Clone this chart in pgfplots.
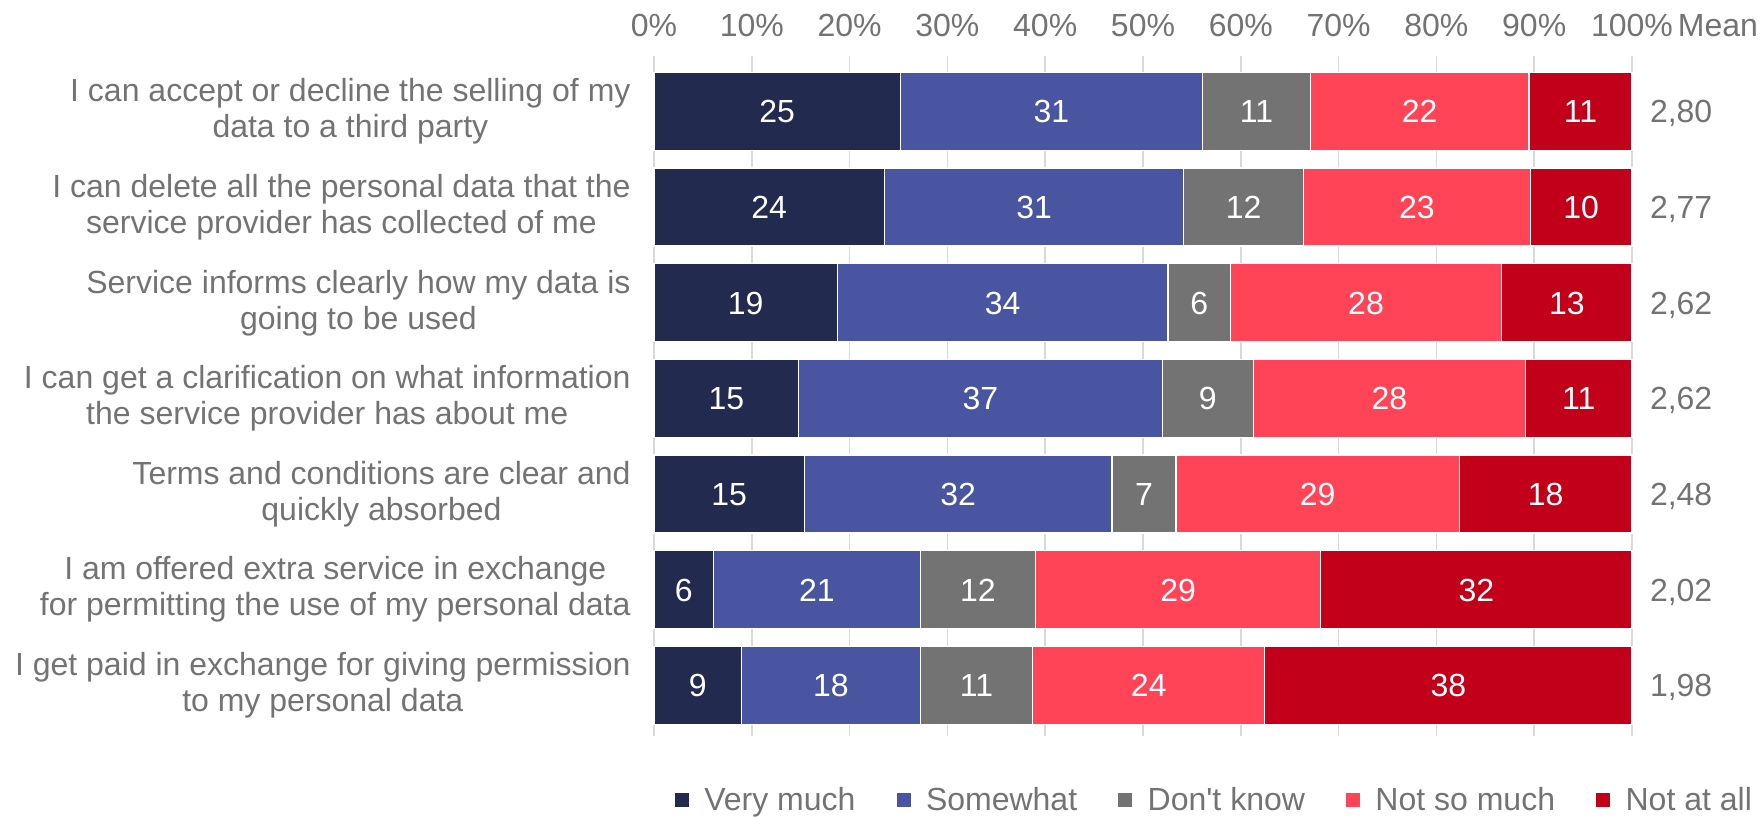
\documentclass[border=0pt]{standalone}
\usepackage{pgfplots}
\pgfplotsset{compat=1.18}
\usepackage{pgfplotstable}
\usepackage{fontspec}
\setmainfont{Liberation Sans}
\definecolor{cVM}{HTML}{222A50}
\definecolor{cSW}{HTML}{4A55A2}
\definecolor{cDK}{HTML}{737373}
\definecolor{cNSM}{HTML}{FF4458}
\definecolor{cNAA}{HTML}{C3001A}
\definecolor{tgray}{HTML}{737373}
\definecolor{ggray}{HTML}{D9D9D9}

\pgfplotstableread{
y v lab
1 25.18 25
2 23.57 24
3 18.74 19
4 14.79 15
5 15.37 15
6 6.08 6
7 8.93 9
}\tVM
\pgfplotstableread{
y v lab
1 30.90 31
2 30.60 31
3 33.82 34
4 37.19 37
5 31.48 32
6 21.15 21
7 18.30 18
}\tSW
\pgfplotstableread{
y v lab
1 11.05 11
2 12.23 12
3 6.37 6
4 9.30 9
5 6.52 7
6 11.79 12
7 11.50 11
}\tDK
\pgfplotstableread{
y v lab
1 22.33 22
2 23.20 23
3 27.75 28
4 27.82 28
5 28.99 29
6 29.14 29
7 23.72 24
}\tNSM
\pgfplotstableread{
y v lab
1 10.54 11
2 10.40 10
3 13.32 13
4 10.90 11
5 17.64 18
6 31.84 32
7 37.55 38
}\tNAA

\newcommand{\bigf}{\fontsize{16}{18}\selectfont}

\begin{document}
\begin{tikzpicture}
\begin{axis}[
  at={(0,0)}, anchor=south west,
  scale only axis, width=489pt, height=340pt,
  clip=false,
  xbar stacked, bar width=39pt,
  xmin=0, xmax=100, ymin=0.42, ymax=7.53, y dir=reverse,
  xtick={0,10,...,100},
  xticklabels={0\%,10\%,20\%,30\%,40\%,50\%,60\%,70\%,80\%,90\%,100\%},
  xticklabel pos=upper,
  ytick={1,2,3,4,5,6,7},
  yticklabels={
    {I can accept or decline the selling of my\\data to a third party},
    {I can delete all the personal data that the\\service provider has collected of me},
    {Service informs clearly how my data is\\going to be used},
    {I can get a clarification on what information\\the service provider has about me},
    {Terms and conditions are clear and\\quickly absorbed},
    {I am offered extra service in exchange\\for permitting the use of my personal data},
    {I get paid in exchange for giving permission\\to my personal data}},
  major tick length=0pt,
  axis line style={draw=none},
  xmajorgrids, major grid style={ggray, line width=0.8pt},
  tick label style={font=\bigf, text=tgray},
  xticklabel style={anchor=base, yshift=9.8pt},
  yticklabel style={align=center, xshift=-8.2pt},
  nodes near coords, point meta=explicit symbolic,
  nodes near coords align=center,
  every node near coord/.append style={anchor=center, text=white, font=\bigf,
    text height=11.5pt, text depth=0pt},
  legend columns=5,
  legend style={at={(axis description cs:0.574,-0.094)}, anchor=center,
    draw=none, fill=none, font=\bigf, text=tgray,
    /tikz/every odd column/.append style={column sep=5.75pt},
    /tikz/every even column/.append style={column sep=18.5pt},
    /tikz/column 4/.append style={column sep=17.3pt},
    /tikz/column 6/.append style={column sep=15.8pt},
    /tikz/column 8/.append style={column sep=17.4pt},
    cells={anchor=west}},
  legend image code/.code={\fill[#1,draw=none] (0pt,-3.5pt) rectangle (7pt,3.5pt);},
]
\addplot[fill=cVM, draw=white, line width=0.7pt] table[x=v, y=y, meta=lab] {\tVM};
\addplot[fill=cSW, draw=white, line width=0.7pt] table[x=v, y=y, meta=lab] {\tSW};
\addplot[fill=cDK, draw=white, line width=0.7pt] table[x=v, y=y, meta=lab] {\tDK};
\addplot[fill=cNSM, draw=white, line width=0.7pt] table[x=v, y=y, meta=lab] {\tNSM};
\addplot[fill=cNAA, draw=white, line width=0.7pt] table[x=v, y=y, meta=lab] {\tNAA};
\legend{Very much, Somewhat, Don\textquotesingle t know, Not so much, Not at all}

\coordinate (BL) at (axis cs:0,7.53);
\tikzset{meanlab/.style={anchor=west, inner sep=0pt, text=tgray, font=\bigf, text height=11.5pt, text depth=0pt}}
\node[meanlab] at ([xshift=8.8pt]axis cs:100,1) {2,80};
\node[meanlab] at ([xshift=8.8pt]axis cs:100,2) {2,77};
\node[meanlab] at ([xshift=8.8pt]axis cs:100,3) {2,62};
\node[meanlab] at ([xshift=8.8pt]axis cs:100,4) {2,62};
\node[meanlab] at ([xshift=8.8pt]axis cs:100,5) {2,48};
\node[meanlab] at ([xshift=8.8pt]axis cs:100,6) {2,02};
\node[meanlab] at ([xshift=8.8pt]axis cs:100,7) {1,98};
\node[anchor=base, text=tgray, font=\bigf] at ([xshift=43pt, yshift=9.8pt]axis cs:100,0.42) {Mean};
\end{axis}
\pgfresetboundingbox
\path[use as bounding box] ([shift={(-327pt,-40pt)}]BL) rectangle ([shift={(554pt,368pt)}]BL);
\end{tikzpicture}
\end{document}
